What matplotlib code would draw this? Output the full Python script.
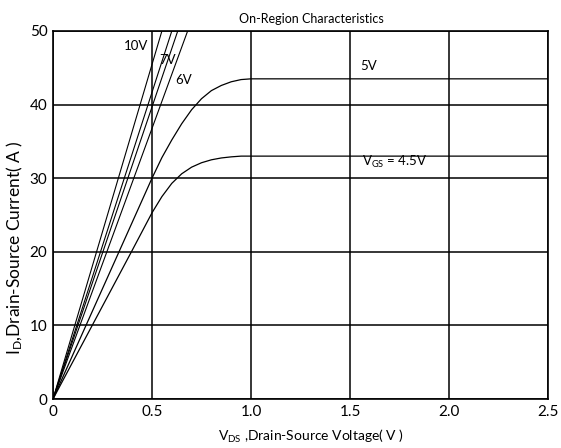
import matplotlib
matplotlib.use("Agg")
from matplotlib import pyplot as plt

plt.rcParams['font.family'] = ['Lato', 'DejaVu Sans']
plt.rcParams['mathtext.fontset'] = 'custom'
plt.rcParams['mathtext.rm'] = 'Lato'
plt.rcParams['mathtext.it'] = 'Lato'

# straight lines (Vgs = 10, 8, 7, 6 V) from origin up to 50 A
vds_steep = {"10V": [0, 0.55], "8V": [0, 0.60], "7V": [0, 0.63], "6V": [0, 0.68]}
id_steep = [0, 50]

# saturating curves
vds_5 = [0, 0.2, 0.4, 0.5, 0.55, 0.6, 0.65, 0.7, 0.75, 0.8, 0.85, 0.9, 0.95, 1.0, 2.5]
id_5 = [0, 12.0, 24.0, 30.0, 32.8, 35.2, 37.4, 39.3, 40.8, 41.9, 42.6, 43.1, 43.4, 43.5, 43.5]
vds_45 = [0, 0.2, 0.4, 0.5, 0.55, 0.6, 0.65, 0.7, 0.75, 0.8, 0.85, 0.9, 0.95, 1.0, 2.5]
id_45 = [0, 10.1, 20.2, 25.3, 27.5, 29.3, 30.6, 31.5, 32.1, 32.5, 32.75, 32.9, 33.0, 33.0, 33.0]

xticks = [0, 0.5, 1.0, 1.5, 2.0, 2.5]
xticklabels = ["0", "0.5", "1.0", "1.5", "2.0", "2.5"]
yticks = [0, 10, 20, 30, 40, 50]

fig = plt.figure(figsize=(5.61, 4.48), dpi=100)
ax = fig.add_axes([53 / 561, 1 - 399 / 448, 495 / 561, 368 / 448])

for k, v in vds_steep.items():
    ax.plot(v, id_steep, color="black", lw=0.8)
ax.plot(vds_5, id_5, color="black", lw=0.9)
ax.plot(vds_45, id_45, color="black", lw=0.9)

ax.set_xlim(0, 2.5)
ax.set_ylim(0, 50)
ax.set_xticks(xticks)
ax.set_xticklabels(xticklabels)
ax.set_yticks(yticks)
ax.tick_params(length=0, labelsize=11, pad=4)
ax.grid(True, color="black", lw=1.1)
for s in ax.spines.values():
    s.set_linewidth(1.2)

ax.text(0.42, 48, "10V", fontsize=9.5, ha="center", va="center")
ax.text(0.58, 46, "7V", fontsize=9.5, ha="center", va="center")
ax.text(0.66, 43.3, "6V", fontsize=9.5, ha="center", va="center")
ax.text(1.55, 45.2, "5V", fontsize=9.5, ha="left", va="center")
ax.text(1.56, 32.2, r"V$_{GS}$ = 4.5V", fontsize=9.5, ha="left", va="center")

ax.set_title("On-Region Characteristics", fontsize=9, pad=6, x=0.521)
ax.set_xlabel(r"V$_{DS}$ ,Drain-Source Voltage( V )", fontsize=10)
ax.xaxis.set_label_coords(0.521, -0.078)
ax.set_ylabel(r"I$_{D}$,Drain-Source Current( A )", fontsize=12.5)
ax.yaxis.set_label_coords(-0.056, 0.41)

fig.savefig("out.png", dpi=100)
